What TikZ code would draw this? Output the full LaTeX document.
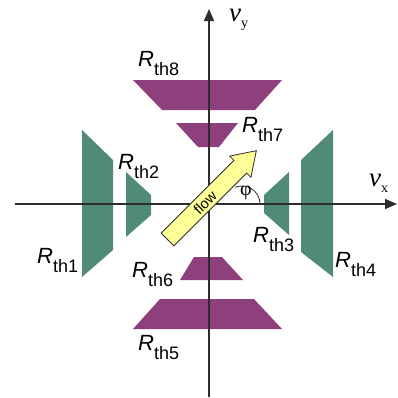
\documentclass[tikz,border=0pt]{standalone}
\usepackage{fontspec}
\setmainfont{Liberation Sans}
\newfontfamily\serifv{Liberation Serif}
\usetikzlibrary{arrows.meta}
\definecolor{pur}{RGB}{142,64,124}
\definecolor{grn}{RGB}{80,138,120}
\definecolor{axc}{RGB}{45,45,45}
\definecolor{flowy}{RGB}{255,255,153}
\newcommand{\Rlab}[1]{\fontsize{22}{22}\selectfont\textit{R}\raisebox{-9.5pt}{\fontsize{18}{18}\selectfont th#1}}
\newcommand{\Vlab}[1]{\serifv\fontsize{27}{27}\selectfont\textit{v}\raisebox{-6pt}{\fontsize{14}{14}\selectfont #1}}
\begin{document}
\begin{tikzpicture}[x=1pt,y=-1pt,
  lbl/.style={inner sep=0pt,anchor=base west},
  axisline/.style={draw=axc,line width=1.6pt,-{Triangle[length=12pt,width=10pt]}},
  pshape/.style={fill=pur,draw=none},
  gshape/.style={fill=grn,draw=none}]
\useasboundingbox (0,0) rectangle (398,397);
% purple trapezoids
\fill[pshape] (133,80) -- (282,80) -- (255,110) -- (162,110) -- cycle;
\fill[pshape] (176,123) -- (238,123) -- (219,147) -- (198,147) -- cycle;
\fill[pshape] (194,257) -- (222,257) -- (243,280) -- (180,280) -- cycle;
\fill[pshape] (160,299) -- (254,299) -- (282,329) -- (133,329) -- cycle;
% green trapezoids
\fill[gshape] (82,130) -- (113,160) -- (113,250) -- (82,277) -- cycle;
\fill[gshape] (126,172) -- (151,195) -- (151,215) -- (126,237) -- cycle;
\fill[gshape] (289,172) -- (264,195) -- (264,213) -- (289,235) -- cycle;
\fill[gshape] (333,130) -- (301,160) -- (301,252) -- (333,277) -- cycle;
% axes
\coordinate (xs) at (15,204);
\coordinate (xe) at (397,204);
\coordinate (ys) at (209,397);
\coordinate (ye) at (209,9);
\draw[axisline] (xs) -- (xe);
\draw[axisline] (ys) -- (ye);
% angle arc
\draw[axc,line width=0.8pt] (260,204) arc[start angle=0,end angle=-112,radius=18];
\node[inner sep=0pt,font=\serifv\fontsize{20}{20}\selectfont] (phi) at (246,193) {φ};
% flow arrow
\begin{scope}[shift={(167.5,239.5)},rotate=45]
\draw[fill=flowy,draw=axc,line width=0.8pt,line join=miter]
  (0,-9) -- (103,-9) -- (103,-15) -- (125.6,0) -- (103,15) -- (103,9) -- (0,9) -- cycle;
\end{scope}
\node[rotate=45,inner sep=0pt,font=\fontsize{14.5}{14.5}\selectfont] (flow) at (205,203) {flow};
% labels
\node[lbl] (r8) at (138,66) {\Rlab{8}};
\node[lbl] (r7) at (242,132) {\Rlab{7}};
\node[lbl] (r2) at (118,169) {\Rlab{2}};
\node[lbl] (r1) at (37,263) {\Rlab{1}};
\node[lbl] (r3) at (253,242) {\Rlab{3}};
\node[lbl] (r4) at (335,267) {\Rlab{4}};
\node[lbl] (r6) at (132,277) {\Rlab{6}};
\node[lbl] (r5) at (138,350) {\Rlab{5}};
\node[lbl] (vy) at (229,21) {\Vlab{y}};
\node[lbl] (vx) at (369,186) {\Vlab{x}};
\end{tikzpicture}
\end{document}
